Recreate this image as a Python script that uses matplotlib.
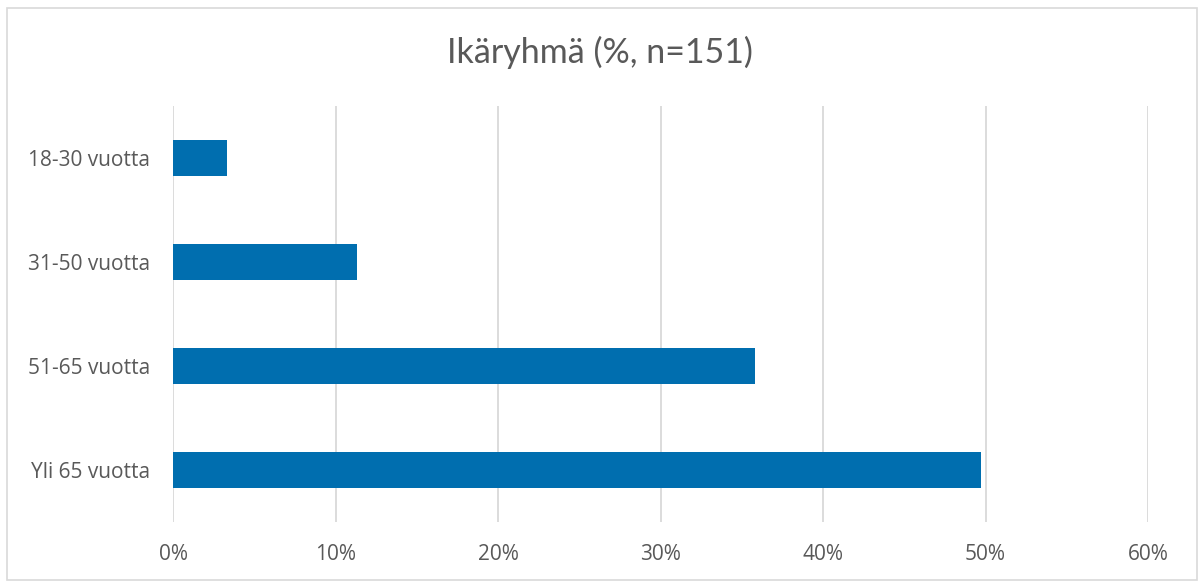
import matplotlib
matplotlib.use("Agg")
import matplotlib.pyplot as plt
from matplotlib.patches import Rectangle
from matplotlib.ticker import FuncFormatter

categories = ["18-30 vuotta", "31-50 vuotta", "51-65 vuotta", "Yli 65 vuotta"]
values = [3.3, 11.3, 35.8, 49.7]
xticks = [0, 10, 20, 30, 40, 50, 60]
title = "Ikäryhmä (%, n=151)"

W, H = 1199, 581
fig = plt.figure(figsize=(W / 100, H / 100), dpi=100)
fig.patch.set_facecolor("white")

# outer frame
fig.add_artist(Rectangle((7 / W, 1 - 580 / H), (1197 - 7) / W, (580 - 8) / H,
                         transform=fig.transFigure, fill=False,
                         edgecolor="#d9d9d9", linewidth=1.2))

left, right, top, bottom = 173, 1148, 106, 522
ax = fig.add_axes([left / W, 1 - bottom / H, (right - left) / W, (bottom - top) / H])

ypos = list(range(len(categories)))
ax.barh(ypos, values, height=0.35, color="#006eaf", zorder=3)
ax.set_ylim(len(categories) - 0.5, -0.5)
ax.set_xlim(0, 60)
ax.set_xticks(xticks)
ax.xaxis.set_major_formatter(FuncFormatter(lambda v, p: f"{int(v)}%"))
ax.set_yticks(ypos)
ax.set_yticklabels(categories)

for s in ax.spines.values():
    s.set_visible(False)
ax.grid(axis="x", color="#d9d9d9", linewidth=1.3, zorder=0)
ax.tick_params(axis="both", length=0, labelsize=15, labelcolor="#595959")
ax.tick_params(axis="x", pad=16)
ax.tick_params(axis="y", pad=16.5)
for lab in ax.get_xticklabels() + ax.get_yticklabels():
    lab.set_family(["Open Sans", "DejaVu Sans"])

fig.text(0.5, 1 - 52 / H, title, ha="center", va="center", fontsize=24.5,
         color="#595959", family=["Lato", "DejaVu Sans"], fontweight="normal")

fig.savefig("out.png", dpi=100, facecolor="white")
